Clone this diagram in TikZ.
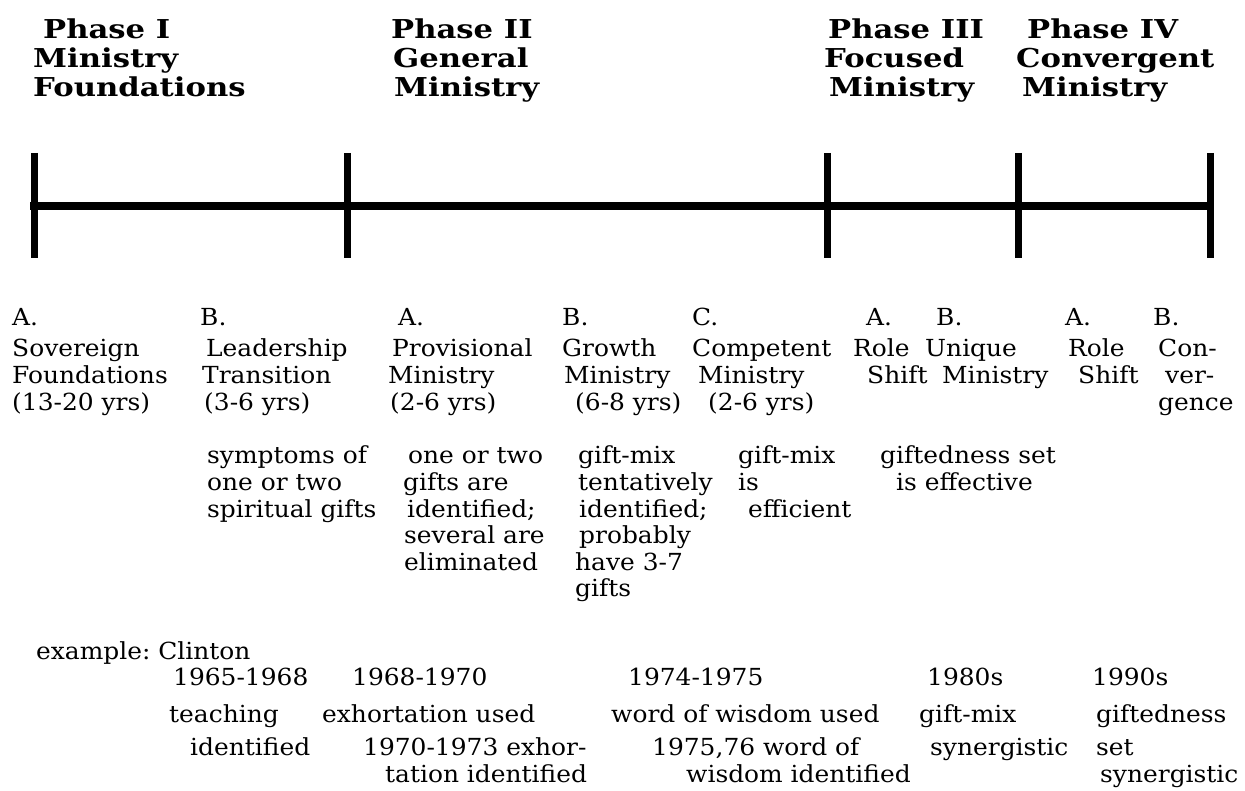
\documentclass[tikz,border=0pt]{standalone}
\usepackage{fontspec}
\frenchspacing
\newfontfamily\bodyf[FakeStretch=1.06]{DejaVu Serif}
\newfontfamily\headf[FakeStretch=1.18]{DejaVu Serif}
\tikzset{
  txt/.style={anchor=base west, inner sep=0pt, font={\bodyf\frenchspacing\fontsize{23.5}{26.7}\selectfont}},
  hdr/.style={anchor=base west, inner sep=0pt, font={\headf\bfseries\fontsize{26}{28}\selectfont}},
  tickmark/.style={line width=7pt},
  axis/.style={line width=7.5pt, line cap=rect}
}
\newcommand\tl[4]{\node[txt] (#1) at (#2,#3) {#4};}
\newcommand\hl[4]{\node[hdr] (#1) at (#2,#3) {#4};}
\begin{document}
\begin{tikzpicture}[x=1pt,y=-1pt]
\useasboundingbox (0,0) rectangle (1245,791);
% timeline
\foreach \i/\x in {1/34,2/347,3/827,4/1018,5/1210}{
  \coordinate (top\i) at (\x,153);
  \coordinate (bot\i) at (\x,258);
  \coordinate (mid\i) at (\x,206);
  \draw[tickmark] (top\i) -- (bot\i);
}
\draw[axis] (mid1) -- (mid5);
% headers
\hl{h1a}{43}{39}{Phase I}
\hl{h1b}{33}{68}{Ministry}
\hl{h1c}{33}{97}{Foundations}
\hl{h2a}{391}{39}{Phase II}
\hl{h2b}{393}{68}{General}
\hl{h2c}{394}{97}{Ministry}
\hl{h3a}{828}{39}{Phase III}
\hl{h3b}{824}{68}{Focused}
\hl{h3c}{829}{97}{Ministry}
\hl{h4a}{1027}{39}{Phase IV}
\hl{h4b}{1016}{68}{Convergent}
\hl{h4c}{1022}{97}{Ministry}
% stage labels
\tl{a1}{12}{326}{A.}
\tl{a1a}{12}{357}{Sovereign}
\tl{a1b}{12}{384}{Foundations}
\tl{a1c}{12}{410}{(13-20 yrs)}
\tl{a2}{200}{326}{B.}
\tl{a2a}{206}{357}{Leadership}
\tl{a2b}{202}{384}{Transition}
\tl{a2c}{204}{410}{(3-6 yrs)}
\tl{a3}{398}{326}{A.}
\tl{a3a}{392}{357}{Provisional}
\tl{a3b}{388}{384}{Ministry}
\tl{a3c}{390}{410}{(2-6 yrs)}
\tl{a4}{562}{326}{B.}
\tl{a4a}{562}{357}{Growth}
\tl{a4b}{564}{384}{Ministry}
\tl{a4c}{575}{410}{(6-8 yrs)}
\tl{a5}{692}{326}{C.}
\tl{a5a}{692}{357}{Competent}
\tl{a5b}{698}{384}{Ministry}
\tl{a5c}{708}{410}{(2-6 yrs)}
\tl{a6}{866}{326}{A.}
\tl{a6a}{853}{357}{Role}
\tl{a6b}{867}{384}{Shift}
\tl{a7}{936}{326}{B.}
\tl{a7a}{925}{357}{Unique}
\tl{a7b}{942}{384}{Ministry}
\tl{a8}{1065}{326}{A.}
\tl{a8a}{1068}{357}{Role}
\tl{a8b}{1078}{384}{Shift}
\tl{a9}{1153}{326}{B.}
\tl{a9a}{1158}{357}{Con-}
\tl{a9b}{1165}{384}{ver-}
\tl{a9c}{1158}{410}{gence}
% descriptions
\tl{d2a}{207}{463}{symptoms of}
\tl{d2b}{207}{490}{one or two}
\tl{d2c}{207}{517}{spiritual gifts}
\tl{d3a}{408}{463}{one or two}
\tl{d3b}{403}{490}{gifts are}
\tl{d3c}{407}{517}{identified;}
\tl{d3d}{404}{543}{several are}
\tl{d3e}{404}{570}{eliminated}
\tl{d4a}{578}{463}{gift-mix}
\tl{d4b}{578}{490}{tentatively}
\tl{d4c}{579}{517}{identified;}
\tl{d4d}{579}{543}{probably}
\tl{d4e}{575}{570}{have 3-7}
\tl{d4f}{575}{596}{gifts}
\tl{d5a}{738}{463}{gift-mix}
\tl{d5b}{738}{490}{is}
\tl{d5c}{748}{517}{efficient}
\tl{d6a}{880}{463}{giftedness set}
\tl{d6b}{896}{490}{is effective}
% example
\tl{ex}{36}{659}{example: Clinton}
\tl{y1}{173}{685}{1965-1968}
\tl{y2}{352}{685}{1968-1970}
\tl{y3}{628}{685}{1974-1975}
\tl{y4}{927}{685}{1980s}
\tl{y5}{1092}{685}{1990s}
\tl{e1a}{169}{722}{teaching}
\tl{e1b}{190}{755}{identified}
\tl{e2a}{322}{722}{exhortation used}
\tl{e2b}{363}{755}{1970-1973 exhor-}
\tl{e2c}{385}{782}{tation identified}
\tl{e3a}{611}{722}{word of wisdom used}
\tl{e3b}{652}{755}{1975,76 word of}
\tl{e3c}{686}{782}{wisdom identified}
\tl{e4a}{919}{722}{gift-mix}
\tl{e4b}{930}{755}{synergistic}
\tl{e5a}{1096}{722}{giftedness}
\tl{e5b}{1096}{755}{set}
\tl{e5c}{1100}{782}{synergistic}
\end{tikzpicture}
\end{document}
